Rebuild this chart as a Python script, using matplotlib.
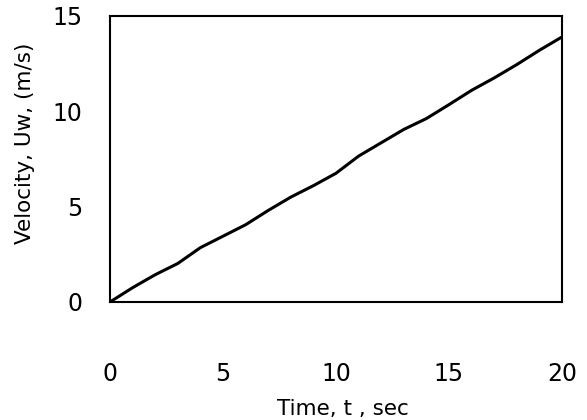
import matplotlib
matplotlib.use("Agg")
import matplotlib.pyplot as plt

# Wind velocity over time
time_s = [0, 1, 2, 3, 4, 5, 6, 7, 8, 9, 10, 11, 12, 13, 14, 15, 16, 17, 18, 19, 20]
velocity = [0.0, 0.75, 1.43, 2.02, 2.85, 3.45, 4.05, 4.8, 5.5, 6.1, 6.75,
            7.65, 8.35, 9.05, 9.62, 10.35, 11.1, 11.75, 12.45, 13.2, 13.9]

x_ticks = [0, 5, 10, 15, 20]
y_ticks = [0, 5, 10, 15]

plt.rcParams["font.family"] = ["DejaVu Sans"]

fig = plt.figure(figsize=(5.87, 4.20), dpi=100)
ax = fig.add_axes([0.1874, 0.281, 0.770, 0.681])

ax.plot(time_s, velocity, color="black", linewidth=2.2,
        solid_capstyle="round", solid_joinstyle="round")

ax.set_xlim(0, 20)
ax.set_ylim(0, 15)
ax.set_xticks(x_ticks)
ax.set_yticks(y_ticks)
ax.tick_params(axis="both", length=0, labelsize=17)
ax.tick_params(axis="x", pad=43)
ax.tick_params(axis="y", pad=20)

for spine in ax.spines.values():
    spine.set_linewidth(1.5)
    spine.set_color("black")

fig.text(0.043, 0.658, "Velocity, Uw, (m/s)", rotation=90, fontsize=15.5,
         ha="center", va="center")
fig.text(0.584, 0.026, "Time, t , sec", fontsize=15.5, ha="center", va="center")

fig.savefig("out.png", dpi=100)
